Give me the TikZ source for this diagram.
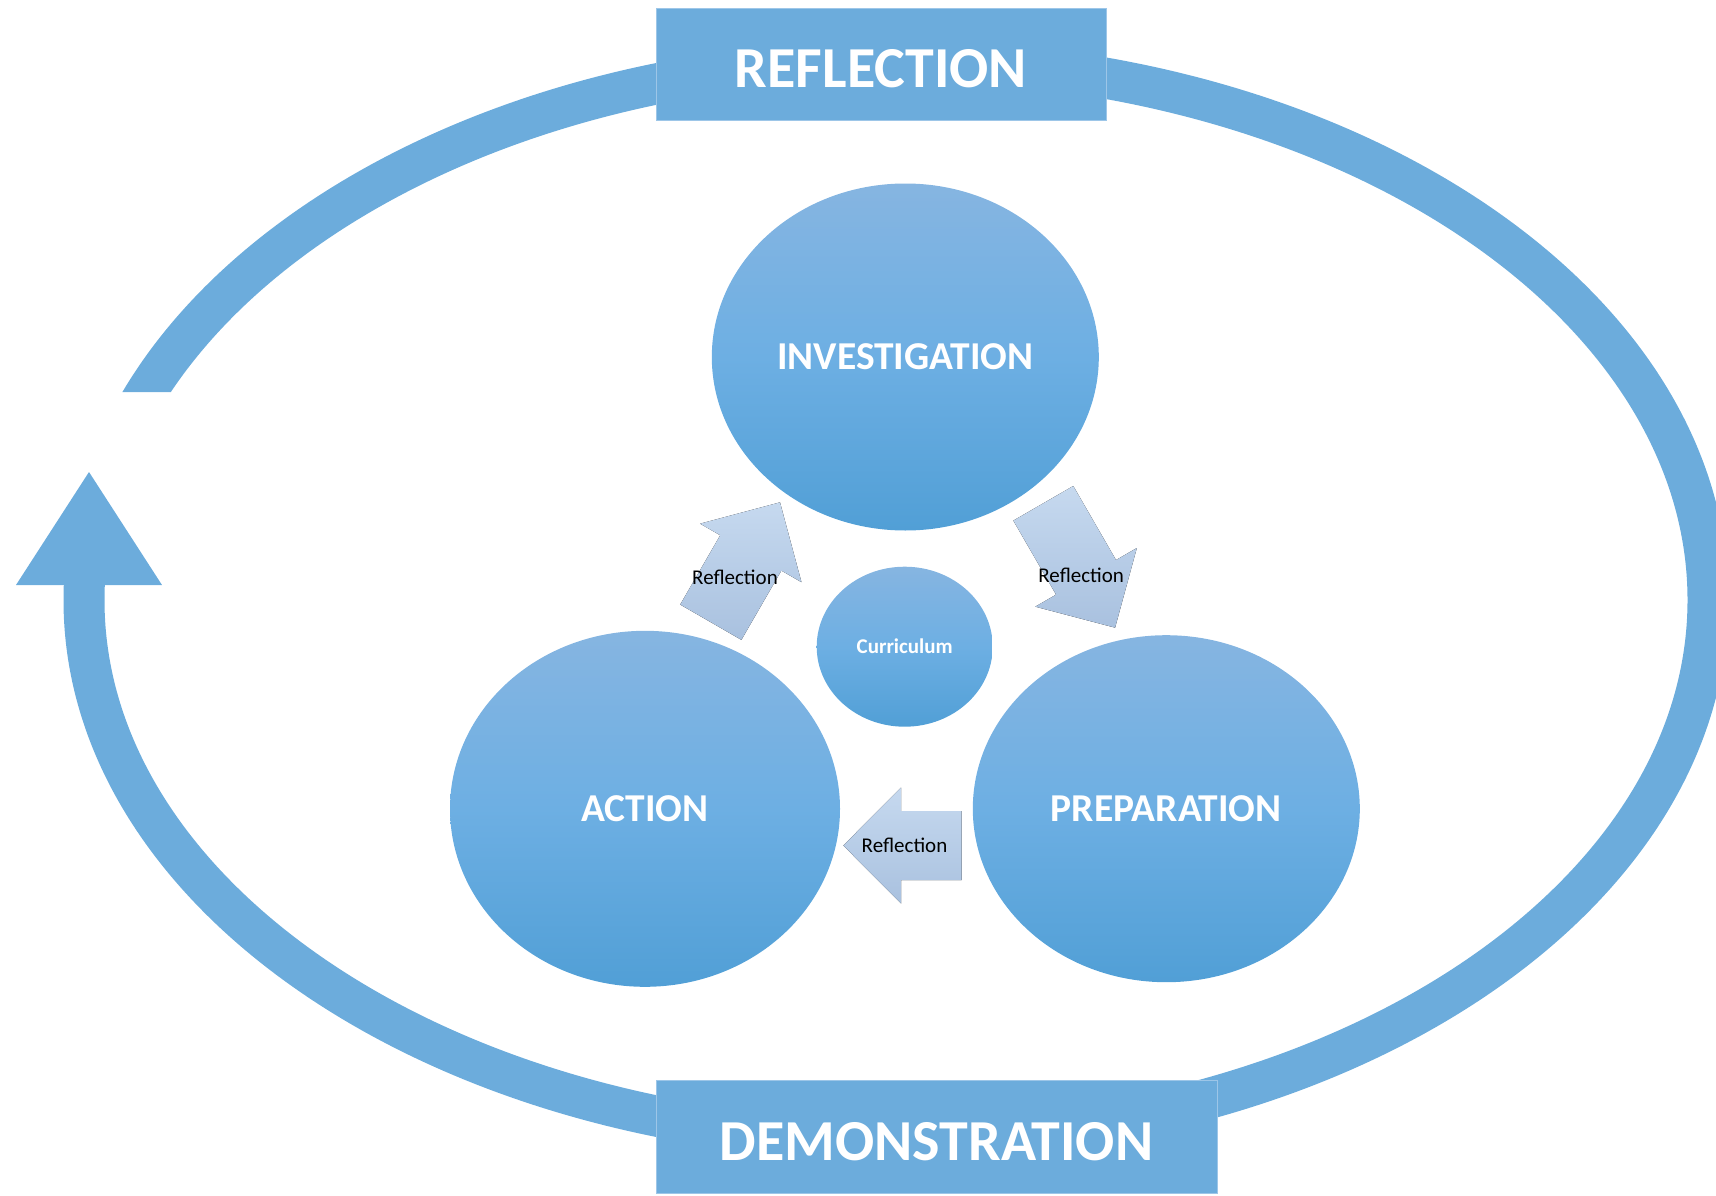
\documentclass[tikz,border=0pt]{standalone}
\usepackage{fontspec}
\setmainfont{Carlito}
\usetikzlibrary{shapes.geometric}
\definecolor{ringblue}{HTML}{6CACDC}
\definecolor{boxedge}{HTML}{9DC6E8}
\definecolor{ballTop}{HTML}{86B5E1}
\definecolor{ballMid}{HTML}{6DAFE3}
\definecolor{ballBot}{HTML}{519FD6}
\definecolor{arrTop}{HTML}{C6D9EF}
\definecolor{arrBot}{HTML}{A9C1DF}
\tikzset{
    loop-ring/.style = {draw=ringblue, line width=41pt},
    title-box/.style = {rectangle, fill=ringblue, draw=boxedge, line width=1pt, inner sep=0pt, text=white, font=\bfseries\fontsize{58}{60}\selectfont, text height=47pt, text depth=0pt},
    stage-ball/.style = {ellipse, top color=ballTop, bottom color=ballBot, middle color=ballMid, inner sep=0pt, text=white, font=\bfseries\fontsize{39.5}{42}\selectfont},
    core-ball/.style = {stage-ball, font=\bfseries\fontsize{21}{23}\selectfont},
    arrow-label/.style = {inner sep=0pt, text=black, font=\fontsize{21}{23}\selectfont},
    pics/step-arrow/.style n args = {4}{code={
        \fill[top color=arrTop, bottom color=arrBot] (0,-#3) -- (#1,-#3) -- (#1,-#4) -- (#2,0) -- (#1,#4) -- (#1,#3) -- (0,#3) -- cycle;
    }},
}
\begin{document}
\begin{tikzpicture}[x=1pt, y=-1pt]
\useasboundingbox (0,0) rectangle (1716,1196);
% outer loop, open on the left
\begin{scope}
\clip (0,0) rectangle (1716,392) (0,585) rectangle (1716,1196) (300,392) rectangle (1716,585);
\draw[loop-ring] (896,600) ellipse [x radius=812, y radius=540];
\end{scope}
\fill[ringblue] (89,472) -- (162,585) -- (16,585) -- cycle;
\node[title-box, minimum width=450pt, minimum height=112pt] (reflect) at (881,64.5) {REFLECTION};
\node[title-box, minimum width=561pt, minimum height=113pt] (demo) at (936.5,1136.5) {DEMONSTRATION};
% the three stages
\node[stage-ball, minimum width=387pt, minimum height=347pt] (invest) at (905.3,357) {INVESTIGATION};
\node[stage-ball, minimum width=390pt, minimum height=356pt] (action) at (645,808.8) {ACTION};
\node[stage-ball, minimum width=387pt, minimum height=347pt] (prep) at (1166.3,808.7) {PREPARATION};
\node[core-ball, minimum width=176pt, minimum height=160pt] (core) at (904.7,646.7) {Curriculum};
% reflection arrows
\pic[rotate=60] (toInvest) at (710.8,622.2) {step-arrow={80}{138.4}{35.3}{58.5}};
\pic[rotate=-60] (toPrep) at (1043.3,503.3) {step-arrow={85.5}{143.6}{34.6}{58.6}};
\pic[rotate=180] (toAction) at (961.7,845.5) {step-arrow={60.7}{118.4}{34.5}{58}};
\node[arrow-label] (lblInvest) at (735,577.3) {Reflection};
\node[arrow-label] (lblPrep) at (1081.2,575) {Reflection};
\node[arrow-label] (lblAction) at (904.5,845) {Reflection};
\end{tikzpicture}
\end{document}
